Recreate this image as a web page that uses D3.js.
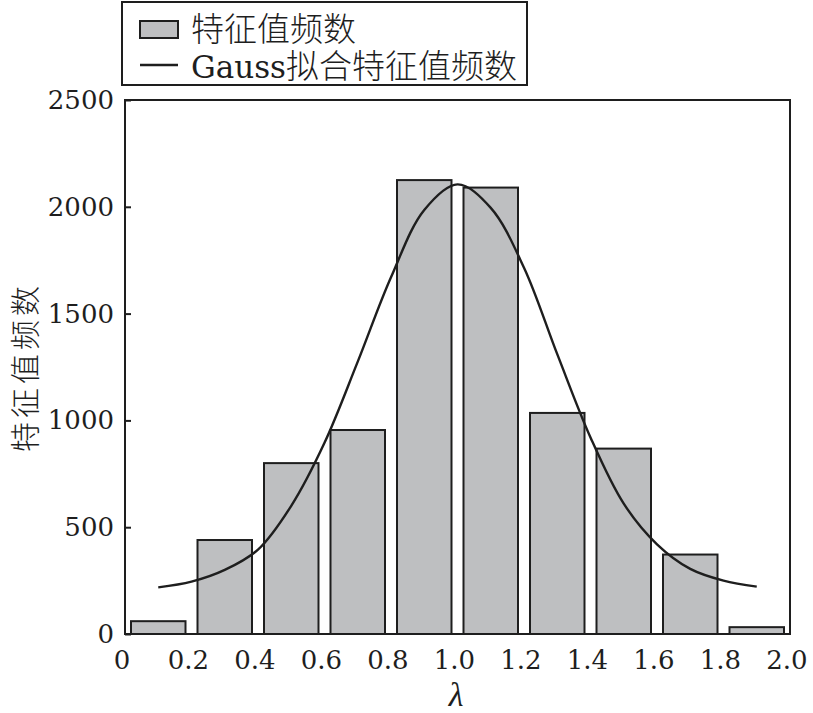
<!DOCTYPE html>
<html><head><meta charset="utf-8">
<script src="https://cdn.jsdelivr.net/npm/d3@7/dist/d3.min.js"></script>
<style>body{margin:0;background:#fff}</style>
</head><body>
<svg id="c" width="813" height="713"></svg>
<script>
// Histogram bins (lambda ranges) and counts
const binStarts = [0.0, 0.2, 0.4, 0.6, 0.8, 1.0, 1.2, 1.4, 1.6, 1.8];
const binWidth = 0.2;
const counts = [60, 440, 800, 955, 2125, 2090, 1035, 868, 372, 32];
// Gaussian fit curve
const fitX = [0.1, 0.2, 0.3, 0.4, 0.5, 0.6, 0.7, 0.8, 0.9, 1.0, 1.1, 1.2, 1.3, 1.4, 1.5, 1.6, 1.7, 1.8, 1.9];
const fitY = [218, 245, 300, 395, 600, 895, 1275, 1670, 1985, 2105, 1995, 1715, 1310, 920, 610, 420, 305, 250, 222];
const xTicks = [0, 0.2, 0.4, 0.6, 0.8, 1.0, 1.2, 1.4, 1.6, 1.8, 2.0];
const xTickLabels = ["0", "0.2", "0.4", "0.6", "0.8", "1.0", "1.2", "1.4", "1.6", "1.8", "2.0"];
const yTicks = [0, 500, 1000, 1500, 2000, 2500];
const legendLabels = ["特征值频数", "Gauss拟合特征值频数"];
const yTitle = "特征值频数";
const xTitle = "λ";

const svg = d3.select("#c");
const L = 125, R = 790, T = 100, B = 634;
const x = d3.scaleLinear().domain([0, 2]).range([L, R]);
const y = d3.scaleLinear().domain([0, 2500]).range([B, T]);
const ink = "#1e1e1e", barFill = "#bebfc1";
const serif = "'DejaVu Serif', serif";
const cjk = "'Noto Sans CJK SC', sans-serif";

// bars
svg.append("g").selectAll("rect").data(counts).join("rect")
  .attr("x", (d, i) => x(binStarts[i]) + 6)
  .attr("width", (d, i) => x(binStarts[i] + binWidth) - x(binStarts[i]) - 12)
  .attr("y", d => y(d))
  .attr("height", d => B - y(d))
  .attr("fill", barFill).attr("stroke", ink).attr("stroke-width", 2);

// fit curve
const line = d3.line().x((d, i) => x(fitX[i])).y(d => y(d)).curve(d3.curveCatmullRom);
svg.append("path").attr("d", line(fitY)).attr("fill", "none")
  .attr("stroke", ink).attr("stroke-width", 2.4);

// frame
svg.append("rect").attr("x", L).attr("y", T).attr("width", R - L).attr("height", B - T)
  .attr("fill", "none").attr("stroke", ink).attr("stroke-width", 2);

// y axis (inward ticks)
const yAxis = d3.axisRight(y).tickValues(yTicks).tickSize(6).tickFormat("");
const gy = svg.append("g").attr("transform", `translate(${L},0)`).call(yAxis);
gy.select(".domain").remove();
gy.selectAll("line").attr("stroke", ink).attr("stroke-width", 2);
svg.append("g").selectAll("text").data(yTicks).join("text")
  .attr("x", L - 11).attr("y", d => y(d) + 9)
  .attr("text-anchor", "end").attr("font-family", serif).attr("font-size", 26)
  .attr("fill", ink).text(d => d);

// x tick labels
svg.append("g").selectAll("text").data(xTicks).join("text")
  .attr("x", d => x(d) - 3).attr("y", 669)
  .attr("text-anchor", "middle").attr("font-family", serif).attr("font-size", 26)
  .attr("fill", ink).text((d, i) => xTickLabels[i]);

// x title
svg.append("text").attr("x", 456).attr("y", 706).attr("text-anchor", "middle")
  .attr("font-family", "'Liberation Serif', serif").attr("font-style", "italic")
  .attr("font-size", 34).attr("fill", ink).text(xTitle);

// y title
svg.append("text").attr("transform", "translate(36,367) rotate(-90)")
  .attr("text-anchor", "middle").attr("font-family", cjk).attr("font-size", 30)
  .attr("font-weight", 300).attr("letter-spacing", 4)
  .attr("fill", ink).text(yTitle);

// legend
const lg = svg.append("g");
lg.append("rect").attr("x", 122).attr("y", 2).attr("width", 405).attr("height", 83)
  .attr("fill", "#fff").attr("stroke", ink).attr("stroke-width", 2);
lg.append("rect").attr("x", 140).attr("y", 21).attr("width", 38).attr("height", 17)
  .attr("fill", barFill).attr("stroke", ink).attr("stroke-width", 2);
lg.append("line").attr("x1", 140).attr("x2", 178).attr("y1", 65).attr("y2", 65)
  .attr("stroke", ink).attr("stroke-width", 2.4);
lg.append("text").attr("x", 191).attr("y", 41).attr("font-family", cjk).attr("font-size", 33)
  .attr("font-weight", 300).attr("fill", ink).text(legendLabels[0]);
const t2 = lg.append("text").attr("x", 191).attr("y", 78).attr("fill", ink);
t2.append("tspan").attr("font-family", serif).attr("font-size", 31).text("Gauss");
t2.append("tspan").attr("font-family", cjk).attr("font-size", 33).attr("font-weight", 300)
  .text(legendLabels[1].slice(5));
</script>
</body></html>
